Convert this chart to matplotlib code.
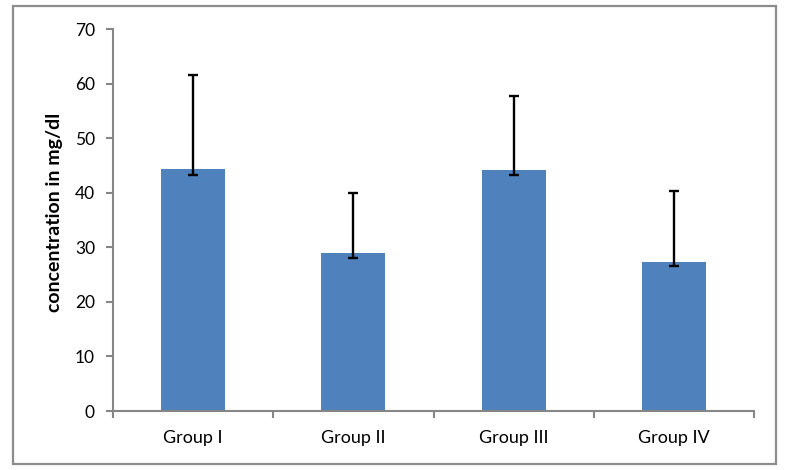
import numpy as np
import matplotlib.pyplot as plt
from matplotlib.patches import Rectangle

plt.rcParams['font.family'] = ['Lato', 'DejaVu Sans']

groups = ['Group I', 'Group II', 'Group III', 'Group IV']
means = [44.3, 29.0, 44.1, 27.3]
err_low = [43.3, 28.1, 43.2, 26.5]
err_high = [61.6, 39.9, 57.7, 40.3]

W, H = 793, 470
fig = plt.figure(figsize=(W / 100, H / 100), dpi=100)
ax = fig.add_axes([113 / W, 1 - 411 / H, 641 / W, 382 / H])

grey = '#868686'
x = np.arange(len(groups))
ax.bar(x, means, width=0.4, color='#4F81BD', zorder=2)
yerr = [np.array(means) - np.array(err_low), np.array(err_high) - np.array(means)]
ax.errorbar(x, means, yerr=yerr, fmt='none', ecolor='black', elinewidth=1.7,
            capsize=3.8, capthick=1.7, zorder=3)

ax.set_xlim(-0.5, 3.5)
ax.set_ylim(0, 70)
ax.set_yticks(range(0, 71, 10))
ax.set_xticks(np.arange(-0.5, 3.6, 1))
ax.set_xticklabels([])
ax.set_xticks(x, minor=True)
ax.set_xticklabels(groups, minor=True, fontsize=13)
ax.tick_params(axis='x', which='minor', length=0, pad=14)
ax.tick_params(axis='x', which='major', length=5, width=1.5, color=grey, direction='out')
ax.tick_params(axis='y', length=5, width=1.5, color=grey, direction='out', labelsize=12.5, pad=8)

for s in ['top', 'right']:
    ax.spines[s].set_visible(False)
for s in ['left', 'bottom']:
    ax.spines[s].set_color(grey)
    ax.spines[s].set_linewidth(1.5)

fig.text(55 / W, 1 - 212 / H, 'concentration in mg/dl', rotation=90,
         ha='center', va='center', fontsize=14, fontweight='bold')

fig.patches.append(Rectangle((12.7 / W, 1 - 464 / H), 763.3 / W, 458.3 / H,
                             transform=fig.transFigure, fill=False,
                             edgecolor='#8c8c8c', linewidth=1.6))

fig.savefig('out.png', dpi=100)
